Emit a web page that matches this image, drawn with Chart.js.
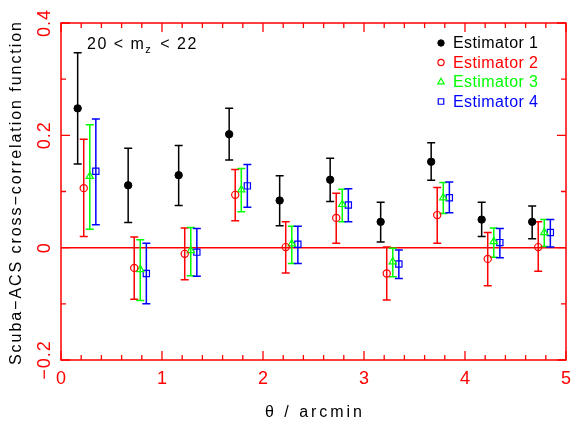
<!DOCTYPE html>
<html>
<head>
<meta charset="utf-8">
<script src="https://cdn.jsdelivr.net/npm/chart.js@4.4.0/dist/chart.umd.min.js"></script>
<style>
  html, body { margin: 0; padding: 0; background: #fff; }
</style>
</head>
<body>
<canvas id="xcorr" width="572" height="422"></canvas>
<script>
// angular bins (arcmin) - each estimator nudged sideways so the bars dont overlap
const thetaEst1 = [0.165, 0.665, 1.165, 1.665, 2.165, 2.665, 3.165, 3.665, 4.165, 4.665];
const thetaEst2 = [0.225, 0.725, 1.225, 1.725, 2.225, 2.725, 3.225, 3.725, 4.225, 4.725];
const thetaEst3 = [0.285, 0.785, 1.285, 1.785, 2.285, 2.785, 3.285, 3.785, 4.285, 4.785];
const thetaEst4 = [0.345, 0.845, 1.345, 1.845, 2.345, 2.845, 3.345, 3.845, 4.345, 4.845];

// estimator 1 (filled circles)
const wEst1   = [0.248, 0.111, 0.129, 0.202, 0.084, 0.121, 0.046, 0.153, 0.050, 0.046];
const hiEst1  = [0.347, 0.177, 0.182, 0.248, 0.128, 0.159, 0.081, 0.187, 0.081, 0.074];
const loEst1  = [0.149, 0.045, 0.075, 0.156, 0.039, 0.082, 0.010, 0.120, 0.020, 0.016];

// estimator 2 (open circles)
const wEst2   = [0.106, -0.036, -0.011, 0.094, 0.001, 0.053, -0.046, 0.058, -0.020, 0.001];
const hiEst2  = [0.193, 0.019, 0.035, 0.139, 0.046, 0.097, 0.001, 0.107, 0.027, 0.046];
const loEst2  = [0.020, -0.092, -0.057, 0.048, -0.045, 0.008, -0.093, 0.008, -0.068, -0.042];

// estimator 3 (triangles)
const wEst3   = [0.127, -0.039, -0.005, 0.103, 0.007, 0.077, -0.025, 0.089, 0.011, 0.027];
const hiEst3  = [0.219, 0.014, 0.036, 0.141, 0.038, 0.104, -0.001, 0.116, 0.035, 0.050];
const loEst3  = [0.033, -0.094, -0.050, 0.064, -0.028, 0.046, -0.052, 0.061, -0.017, 0.002];

// estimator 4 (squares)
const wEst4   = [0.136, -0.046, -0.008, 0.110, 0.006, 0.076, -0.029, 0.089, 0.009, 0.027];
const hiEst4  = [0.229, 0.008, 0.034, 0.148, 0.038, 0.105, -0.004, 0.117, 0.034, 0.050];
const loEst4  = [0.041, -0.100, -0.051, 0.072, -0.028, 0.046, -0.055, 0.062, -0.018, 0.001];

const seriesNames = ['Estimator 1', 'Estimator 2', 'Estimator 3', 'Estimator 4'];

// axis ticks
const xTickLabels  = ['0', '1', '2', '3', '4', '5'];
const yMajorTicks  = [-0.2, 0, 0.2, 0.4];
const yMinorTicks  = [-0.1, 0.1, 0.3];
const yTickLabels  = ['\u22120.2', '0', '0.2', '0.4'];

const RED = '#ff0000';
const FONT = '"Liberation Sans", Arial, sans-serif';

function toPoints(xs, ys, lo, hi){
  return xs.map((x, i) => ({ x: x, y: ys[i], lo: lo[i], hi: hi[i] }));
}

// draws text so it spans a given width (pgplot letters are spaced out)
function spreadText(ctx, text, cx, cy, width, rot){
  ctx.save();
  ctx.translate(cx, cy);
  if (rot) ctx.rotate(rot);
  ctx.letterSpacing = '0px';
  const w = ctx.measureText(text).width;
  const n = [...text].length;
  const sp = n > 1 ? (width - w) / (n - 1) : 0;
  ctx.letterSpacing = sp + 'px';
  ctx.textAlign = 'left';
  ctx.fillText(text, -width / 2, 0);
  ctx.restore();
}

function marker(ctx, ds, x, y){
  const h = Chart.helpers;
  ctx.save();
  ctx.strokeStyle = ds.borderColor;
  ctx.fillStyle = ds.backgroundColor;
  ctx.lineWidth = ds.borderWidth;
  h.drawPoint(ctx, { pointStyle: ds.pointStyle, radius: ds.pointRadius, rotation: 0, borderWidth: ds.borderWidth }, x, y);
  ctx.restore();
}

const pgplotBits = {
  id: 'pgplotBits',
  beforeDatasetsDraw(chart){
    const ctx = chart.ctx;
    const xs = chart.scales.x, ys = chart.scales.y;
    const a = chart.chartArea;

    // zero line
    ctx.save();
    ctx.strokeStyle = RED;
    ctx.lineWidth = 1.5;
    ctx.beginPath();
    ctx.moveTo(a.left, ys.getPixelForValue(0));
    ctx.lineTo(a.right, ys.getPixelForValue(0));
    ctx.stroke();

    // error bars
    chart.data.datasets.forEach(ds => {
      ctx.strokeStyle = ds.borderColor;
      ctx.lineWidth = 1.5;
      ds.data.forEach(p => {
        const px = xs.getPixelForValue(p.x);
        const top = ys.getPixelForValue(p.hi);
        const bot = ys.getPixelForValue(p.lo);
        ctx.beginPath();
        ctx.moveTo(px, top); ctx.lineTo(px, bot);
        ctx.moveTo(px - 4, top); ctx.lineTo(px + 4, top);
        ctx.moveTo(px - 4, bot); ctx.lineTo(px + 4, bot);
        ctx.stroke();
      });
    });
    ctx.restore();
  },
  afterDraw(chart){
    const ctx = chart.ctx;
    const xs = chart.scales.x, ys = chart.scales.y;
    const a = chart.chartArea;

    ctx.save();
    // frame
    ctx.strokeStyle = RED;
    ctx.lineWidth = 1.5;
    ctx.strokeRect(a.left, a.top, a.right - a.left, a.bottom - a.top);

    // inward ticks, bottom + top
    ctx.lineWidth = 1.3;
    ctx.beginPath();
    for (let v = 0; v <= 5.001; v += 0.2){
      const major = Math.abs(v - Math.round(v)) < 0.01;
      const len = major ? 9 : 5;
      const px = xs.getPixelForValue(v);
      ctx.moveTo(px, a.bottom); ctx.lineTo(px, a.bottom - len);
      ctx.moveTo(px, a.top);    ctx.lineTo(px, a.top + len);
    }
    // left + right
    yMajorTicks.forEach(v => {
      const py = ys.getPixelForValue(v);
      ctx.moveTo(a.left, py);  ctx.lineTo(a.left + 9, py);
      ctx.moveTo(a.right, py); ctx.lineTo(a.right - 9, py);
    });
    yMinorTicks.forEach(v => {
      const py = ys.getPixelForValue(v);
      ctx.moveTo(a.left, py);  ctx.lineTo(a.left + 5, py);
      ctx.moveTo(a.right, py); ctx.lineTo(a.right - 5, py);
    });
    ctx.stroke();

    // y tick labels, rotated
    ctx.fillStyle = RED;
    ctx.font = '18px ' + FONT;
    ctx.textBaseline = 'alphabetic';
    yMajorTicks.forEach((v, i) => {
      ctx.save();
      ctx.translate(50, ys.getPixelForValue(v));
      ctx.rotate(-Math.PI / 2);
      ctx.textAlign = 'center';
      ctx.letterSpacing = '1px';
      ctx.fillText(yTickLabels[i], 0, 0);
      ctx.restore();
    });

    // axis titles
    ctx.fillStyle = '#000';
    ctx.font = '16px ' + FONT;
    ctx.textBaseline = 'middle';
    spreadText(ctx, 'Scuba\u2212ACS cross\u2212correlation function', 17, 193.5, 343, -Math.PI / 2);
    spreadText(ctx, '\u03b8 / arcmin', (a.left + a.right) / 2, 413, 97, 0);

    // magnitude range label
    ctx.textBaseline = 'alphabetic';
    ctx.textAlign = 'left';
    ctx.letterSpacing = '1.5px';
    let tx = 87;
    ctx.fillText('20 < m', tx, 49);
    tx += ctx.measureText('20 < m').width;
    ctx.font = '11px ' + FONT;
    ctx.fillText('z', tx, 53);
    tx += ctx.measureText('z').width + 2;
    ctx.font = '16px ' + FONT;
    ctx.fillText(' < 22', tx, 49);

    // legend
    ctx.letterSpacing = '0.4px';
    chart.data.datasets.forEach((ds, i) => {
      const ry = 43 + i * 19.5;
      marker(ctx, Object.assign({}, ds, { pointRadius: ds.pointRadius - 0.5 }), 441, ry);
      ctx.fillStyle = ds.borderColor;
      ctx.textBaseline = 'middle';
      ctx.fillText(seriesNames[i], 453, ry + 1);
    });
    ctx.restore();
  }
};

const ctx = document.getElementById('xcorr').getContext('2d');
const chart = new Chart(ctx, {
  type: 'scatter',
  data: {
    datasets: [
      { label: seriesNames[0], data: toPoints(thetaEst1, wEst1, loEst1, hiEst1),
        pointStyle: 'circle', pointRadius: 3.7, borderColor: '#000000', backgroundColor: '#000000', borderWidth: 1 },
      { label: seriesNames[1], data: toPoints(thetaEst2, wEst2, loEst2, hiEst2),
        pointStyle: 'circle', pointRadius: 3.6, borderColor: RED, backgroundColor: 'rgba(0,0,0,0)', borderWidth: 1.2 },
      { label: seriesNames[2], data: toPoints(thetaEst3, wEst3, loEst3, hiEst3),
        pointStyle: 'triangle', pointRadius: 4.2, borderColor: '#00ff00', backgroundColor: 'rgba(0,0,0,0)', borderWidth: 1.2 },
      { label: seriesNames[3], data: toPoints(thetaEst4, wEst4, loEst4, hiEst4),
        pointStyle: 'rect', pointRadius: 4.4, borderColor: '#0000ff', backgroundColor: 'rgba(0,0,0,0)', borderWidth: 1.2 }
    ]
  },
  options: {
    responsive: false,
    devicePixelRatio: 1,
    animation: false,
    layout: { padding: { top: 23, right: 6, left: 0, bottom: 0 } },
    plugins: {
      legend:  { display: false },
      tooltip: { enabled: false }
    },
    scales: {
      x: {
        type: 'linear', min: 0, max: 5,
        grid: { display: false }, border: { display: false },
        ticks: {
          stepSize: 1, color: RED, padding: 0, maxRotation: 0,
          font: { family: FONT, size: 18 },
          callback: (v) => xTickLabels[Math.round(v)]
        },
        afterFit: (s) => { s.height = 62; }
      },
      y: {
        type: 'linear', min: -0.2, max: 0.4,
        grid: { display: false }, border: { display: false },
        ticks: { display: false },
        afterFit: (s) => { s.width = 61; }
      }
    }
  },
  plugins: [pgplotBits]
});
</script>
</body>
</html>
